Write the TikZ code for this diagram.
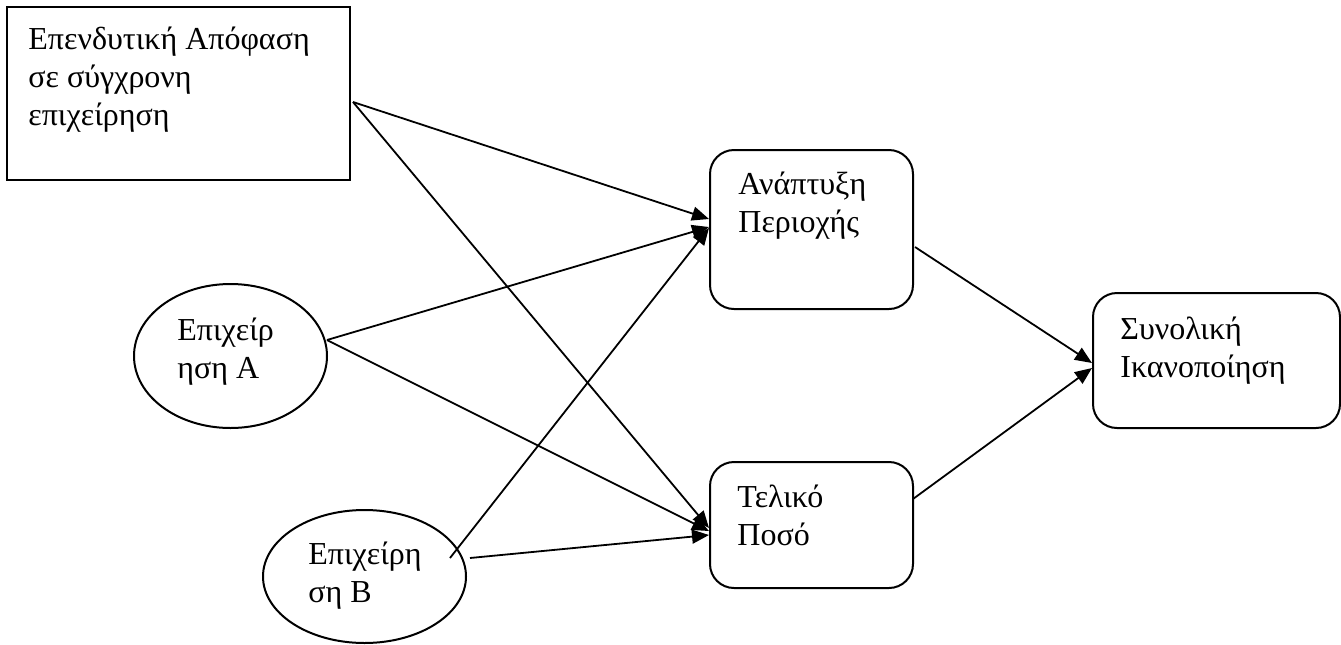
\documentclass[tikz,border=0pt]{standalone}
\usepackage{fontspec}
\setmainfont{Liberation Serif}
\usetikzlibrary{arrows.meta,calc,shapes.geometric}
\begin{document}
\begin{tikzpicture}[x=0.5pt,y=-0.5pt,
  shapeline/.style={draw=black,line width=1pt},
  box/.style={shapeline,rectangle,inner sep=0pt},
  rbox/.style={shapeline,rectangle,rounded corners=12pt,inner sep=0pt},
  oval/.style={shapeline,ellipse,inner sep=0pt},
  lbl/.style={anchor=base west,inner sep=0pt,font=\fontsize{16}{19}\selectfont,align=left},
  conn/.style={line width=0.9pt,-{Triangle[length=8.5pt,width=7pt]}}]
\useasboundingbox (0,0) rectangle (1341,644);
% shapes
\node[box,minimum width=171.5pt,minimum height=86.5pt] (inv) at (178.5,93.5) {};
\node[oval,minimum width=96.5pt,minimum height=72pt] (ea) at (230.5,356) {};
\node[oval,minimum width=101.5pt,minimum height=66.5pt] (eb) at (364.5,576.5) {};
\node[rbox,minimum width=101.5pt,minimum height=79.5pt] (ana) at (811.5,229.5) {};
\node[rbox,minimum width=101.5pt,minimum height=63pt] (tel) at (811.5,525) {};
\node[rbox,minimum width=123.5pt,minimum height=67.5pt] (syn) at (1216.5,360.5) {};
% labels (anchored at the baseline of the last line)
\node[lbl] (invt) at (28,125) {Επενδυτική Απόφαση\\σε σύγχρονη\\επιχείρηση};
\node[lbl] (eat) at (177,378) {Επιχείρ\\ηση Α};
\node[lbl] (ebt) at (308,602) {Επιχείρη\\ση Β};
\node[lbl] (anat) at (738,232) {Ανάπτυξη\\Περιοχής};
\node[lbl] (telt) at (737,545) {Τελικό\\Ποσό};
\node[lbl] (synt) at (1120,377) {Συνολική\\Ικανοποίηση};
% connector start points
\coordinate (rs) at (353,102);
\coordinate (as) at (327,340);
\coordinate (bs1) at (450,558);
\coordinate (bs2) at (470,558);
\coordinate (anas) at (915,247);
\coordinate (tels) at (913,499);
% connectors
\draw[conn] (rs) -- ($(ana.west)+(0,-10.5)$);
\draw[conn] (rs) -- ($(tel.west)+(0,3)$);
\draw[conn] (as) -- ($(ana.west)+(0,-2.5)$);
\draw[conn] (as) -- ($(tel.west)+(0,6)$);
\draw[conn] (bs1) -- ($(ana.west)+(0,-1.5)$);
\draw[conn] (bs2) -- ($(tel.west)+(0,10)$);
\draw[conn] (anas) -- ($(syn.west)+(0,2.5)$);
\draw[conn] (tels) -- ($(syn.west)+(0,7.5)$);
\end{tikzpicture}
\end{document}
